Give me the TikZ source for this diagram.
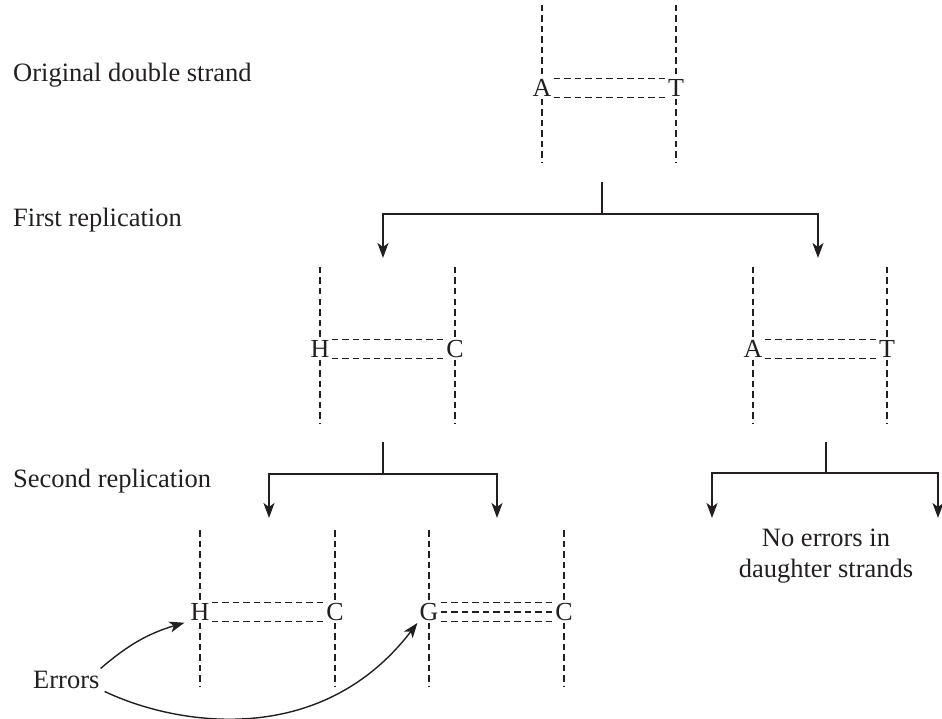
\documentclass[tikz,border=0pt]{standalone}
\usepackage{fontspec}
\setmainfont{Liberation Serif}
\usetikzlibrary{arrows.meta}
\definecolor{ink}{RGB}{35,31,32}
\newcommand\dnapair[8]{%
  \coordinate (#1tl) at (#2,#4); \coordinate (#1tr) at (#3,#4);
  \coordinate (#1bl) at (#2,#6); \coordinate (#1br) at (#3,#6);
  \node[basechar] (#1L) at (#2,#5) {#7};
  \node[basechar] (#1R) at (#3,#5) {#8};
  \draw[strand] (#1tl) -- (#1L.north);
  \draw[strand] (#1L.south) -- (#1bl);
  \draw[strand] (#1tr) -- (#1R.north);
  \draw[strand] (#1R.south) -- (#1br);
  \draw[strand] ([yshift=9.5pt]#1L.east) -- ([yshift=9.5pt]#1R.west);
  \draw[strand] ([yshift=-9.5pt]#1L.east) -- ([yshift=-9.5pt]#1R.west);
}
\begin{document}
\begin{tikzpicture}[x=1pt,y=-1pt,
  strand/.style={line width=1.3pt, dash pattern=on 6.5pt off 4pt, draw=ink},
  conn/.style={line width=1.4pt, draw=ink},
  arr/.style={conn, -{Stealth[length=15pt,width=11pt,inset=4pt]}},
  basechar/.style={inner sep=2pt, text=ink, font=\fontsize{26}{30}\selectfont},
  lbl/.style={inner sep=0pt, text=ink, font=\fontsize{26.5}{30}\selectfont, anchor=base west},
]
\useasboundingbox (0,0) rectangle (942,719);

% labels
\node[lbl] (l1) at (13,82) {Original double strand};
\node[lbl] (l2) at (13,227) {First replication};
\node[lbl] (l3) at (13,487) {Second replication};
\node[lbl] (err) at (33,688) {Errors};
\node[lbl, anchor=base] (ne1) at (826,546) {No errors in};
\node[lbl, anchor=base] (ne2) at (826,577) {daughter strands};

% duplexes
\dnapair{top}{542}{676}{5}{88}{162}{A}{T}
\dnapair{mL}{320}{455}{267}{349}{423}{H}{C}
\dnapair{mR}{753}{887}{267}{349}{423}{A}{T}
\dnapair{bL}{200}{335}{530}{612}{687}{H}{C}
\dnapair{bR}{429}{564}{530}{612}{687}{G}{C}
\draw[strand] (bRL.east) -- (bRR.west);

% first replication
\coordinate (s0a) at (602,182); \coordinate (s0) at (602,214);
\coordinate (t0l) at (383,258); \coordinate (t0r) at (818,258);
\draw[conn] (s0a) -- (s0);
\draw[arr] (s0) -| (t0l);
\draw[arr] (s0) -| (t0r);

% second replication, left
\coordinate (s1a) at (383,442); \coordinate (s1) at (383,474);
\coordinate (t1l) at (269,518); \coordinate (t1r) at (497,518);
\draw[conn] (s1a) -- (s1);
\draw[arr] (s1) -| (t1l);
\draw[arr] (s1) -| (t1r);

% second replication, right
\coordinate (s2a) at (826,442); \coordinate (s2) at (826,473);
\coordinate (t2l) at (712,518); \coordinate (t2r) at (938,518);
\draw[conn] (s2a) -- (s2);
\draw[arr] (s2) -| (t2l);
\draw[arr] (s2) -| (t2r);

% error arrows
\draw[arr] ([xshift=1pt,yshift=2pt]err.north east) to[bend left=12] ([xshift=-4pt]bLL.south west);
\draw[arr] ([xshift=5pt,yshift=-3pt]err.south east) .. controls (175,725) and (320,750) .. (bRL.south west);
\end{tikzpicture}
\end{document}
